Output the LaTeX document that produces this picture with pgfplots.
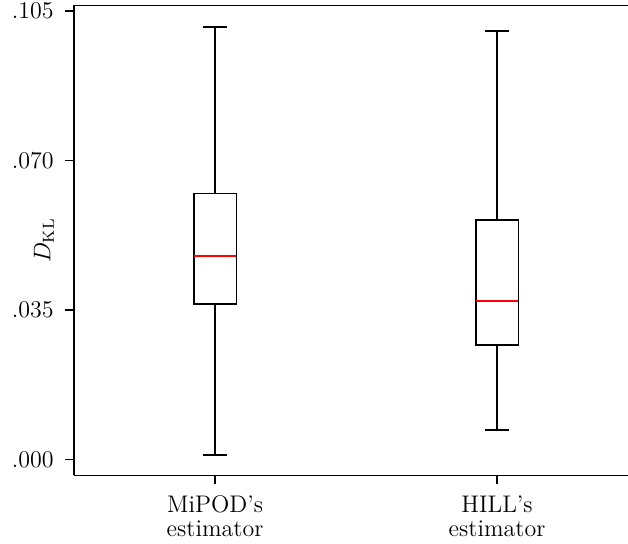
\documentclass[border=0pt]{standalone}
\usepackage{pgfplots}
\usepgfplotslibrary{statistics}
\pgfplotsset{compat=1.18}
\begin{document}
\fontsize{12}{14}\selectfont
\begin{tikzpicture}
\begin{axis}[
  scale only axis, width=277pt, height=235pt,
  xmin=0.5, xmax=2.464, ymin=-0.0037, ymax=0.1063,
  axis lines*=left,
  axis line style={line width=0.8pt},
  every tick/.style={black, line width=0.8pt},
  tick align=outside, major tick length=4.5pt,
  ytick={0,0.035,0.07,0.105}, yticklabels={.000,.035,.070,.105},
  xtick={1,2}, xticklabels={MiPOD's\\estimator, HILL's\\estimator},
  xticklabel style={align=center, font=\fontsize{12}{12}\selectfont, yshift=-1.5pt},
  yticklabel style={font=\fontsize{12}{12}\selectfont, xshift=-1.5pt},
  ylabel={$D_{\mathrm{KL}}$},
  ylabel style={at={(rel axis cs:0,0.5)}, anchor=center, yshift=15pt},
  boxplot/draw direction=y,
  clip=false,
]
\addplot+[black, solid, line width=0.9pt, mark=none,
  boxplot prepared={median=0.0477, upper quartile=0.0623, lower quartile=0.0365,
    upper whisker=0.1012, lower whisker=0.00117, box extend=0.152, whisker extend=0.085}]
  coordinates {};
\addplot+[black, solid, line width=0.9pt, mark=none,
  boxplot prepared={median=0.0371, upper quartile=0.0561, lower quartile=0.0268,
    upper whisker=0.1003, lower whisker=0.00693, box extend=0.152, whisker extend=0.085}]
  coordinates {};
\addplot[red, line width=0.7pt, mark=none] coordinates {(0.926,0.0477) (1.074,0.0477)};
\addplot[red, line width=0.7pt, mark=none] coordinates {(1.926,0.0371) (2.074,0.0371)};
\draw[line width=0.8pt] (rel axis cs:0,1) -- (rel axis cs:1,1);
\coordinate (ll) at (rel axis cs:0,0);
\coordinate (ur) at (rel axis cs:1,1);
\end{axis}
\pgfresetboundingbox
\path[use as bounding box] ([xshift=-37pt,yshift=-34pt]ll) rectangle ([yshift=2.75pt]ur);
\end{tikzpicture}
\end{document}
